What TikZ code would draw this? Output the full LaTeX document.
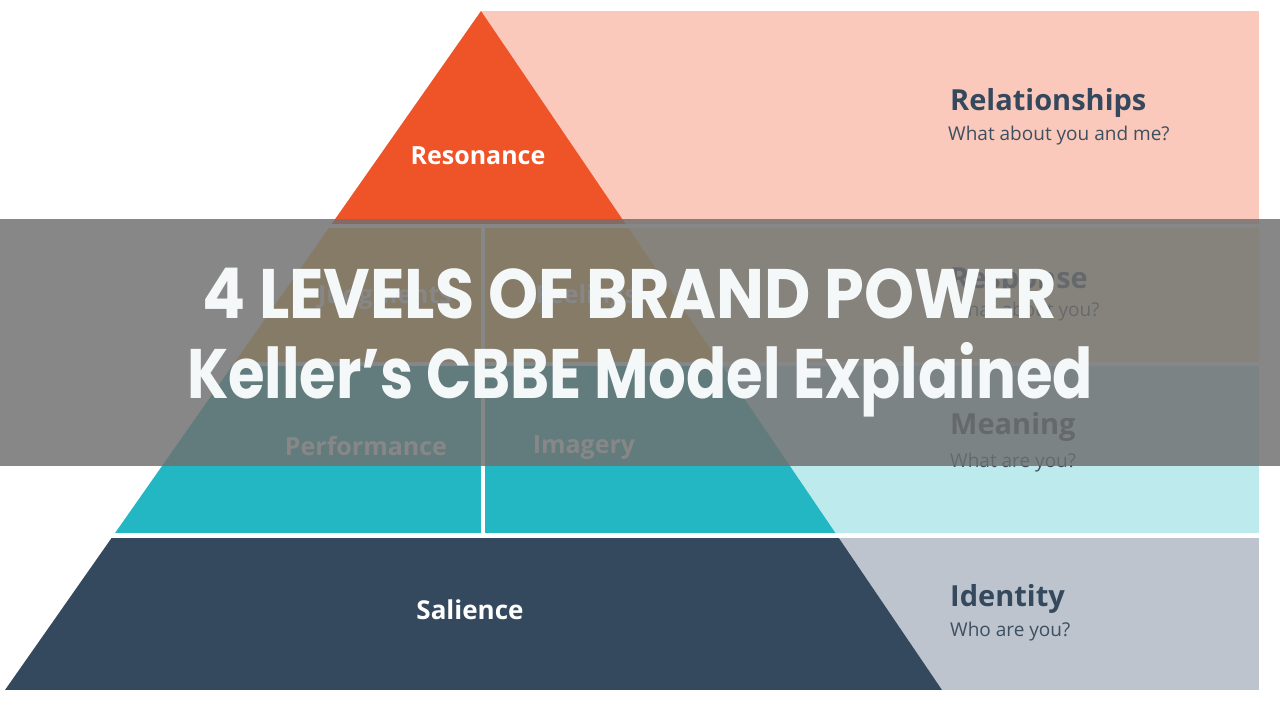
\documentclass[tikz,border=0pt]{standalone}
\usepackage{fontspec}
\usepackage{graphicx}
\setmainfont{Open Sans}
\newfontfamily\titlefont{Poppins}
\definecolor{pinkp}{HTML}{FAC9BB}
\definecolor{yellowp}{HTML}{FDEBC4}
\definecolor{cyanp}{HTML}{BDEAEC}
\definecolor{grayp}{HTML}{BDC4CE}
\definecolor{orangeL}{HTML}{EF5428}
\definecolor{goldL}{HTML}{F7B842}
\definecolor{tealL}{HTML}{23B7C3}
\definecolor{navyL}{HTML}{34495E}
\definecolor{headtxt}{HTML}{34495E}
\definecolor{subtxt}{HTML}{3D4F60}
\definecolor{bandgray}{HTML}{6F6F6F}
\definecolor{titletxt}{HTML}{F4F8F9}
\tikzset{
  pyrlabel/.style={text=white, font=\bfseries\fontsize{25}{30}\selectfont, inner sep=0pt},
  headlabel/.style={anchor=base west, text=headtxt, font=\bfseries\fontsize{29}{34}\selectfont, inner sep=0pt},
  sublabel/.style={anchor=base west, text=subtxt, font=\fontsize{19}{23}\selectfont, inner sep=0pt},
  titleline/.style={anchor=base, text=titletxt, font=\titlefont\bfseries\fontsize{70}{80}\selectfont, inner sep=0pt},
  band/.style={fill=bandgray, fill opacity=0.83}
}
\begin{document}
\begin{tikzpicture}[x=1pt,y=-1pt]
\useasboundingbox (0,0) rectangle (1280,720);
\fill[white] (0,0) rectangle (1280,720);
% right panels
\fill[pinkp] (481,11) rectangle (1259,224);
\fill[yellowp] (481,228) rectangle (1259,362);
\fill[cyanp] (481,366) rectangle (1259,533);
\fill[grayp] (481,538) rectangle (1259,690);
% pyramid
\begin{scope}
\clip (481,11) -- (942,690) -- (5,690) -- cycle;
\fill[orangeL] (0,0) rectangle (1280,224);
\fill[goldL] (0,228) rectangle (1280,362);
\fill[tealL] (0,366) rectangle (1280,533);
\fill[navyL] (0,538) rectangle (1280,690);
\fill[white] (481,228) rectangle (485,533);
\end{scope}
% pyramid labels
\node[pyrlabel] (resonance) at (478,156) {Resonance};
\node[pyrlabel] (judgments) at (385,297) {Judgments};
\node[pyrlabel] (feelings) at (586,297) {Feelings};
\node[pyrlabel] (performance) at (366,446) {Performance};
\node[pyrlabel] (imagery) at (584,448) {Imagery};
\node[pyrlabel, font=\bfseries\fontsize{26}{31}\selectfont] (salience) at (470,610) {Salience};
% right texts
\node[headlabel] (relh) at (950,110) {Relationships};
\node[sublabel] (rels) at (948,140) {What about you and me?};
\node[headlabel] (resh) at (950,288) {Response};
\node[sublabel] (ress) at (950,316) {What about you?};
\node[headlabel] (meah) at (950,434) {Meaning};
\node[sublabel] (meas) at (950,467) {What are you?};
\node[headlabel] (idh) at (950,606) {Identity};
\node[sublabel] (ids) at (950,636) {Who are you?};
% overlay band
\fill[band] (0,219) rectangle (1280,466);
% title
\node[titleline] (title1) at (630,318) {\resizebox{855pt}{\height}{4 LEVELS OF BRAND POWER}};
\node[titleline] (title2) at (640,398) {\resizebox{906pt}{\height}{Keller’s CBBE Model Explained}};
\end{tikzpicture}
\end{document}
